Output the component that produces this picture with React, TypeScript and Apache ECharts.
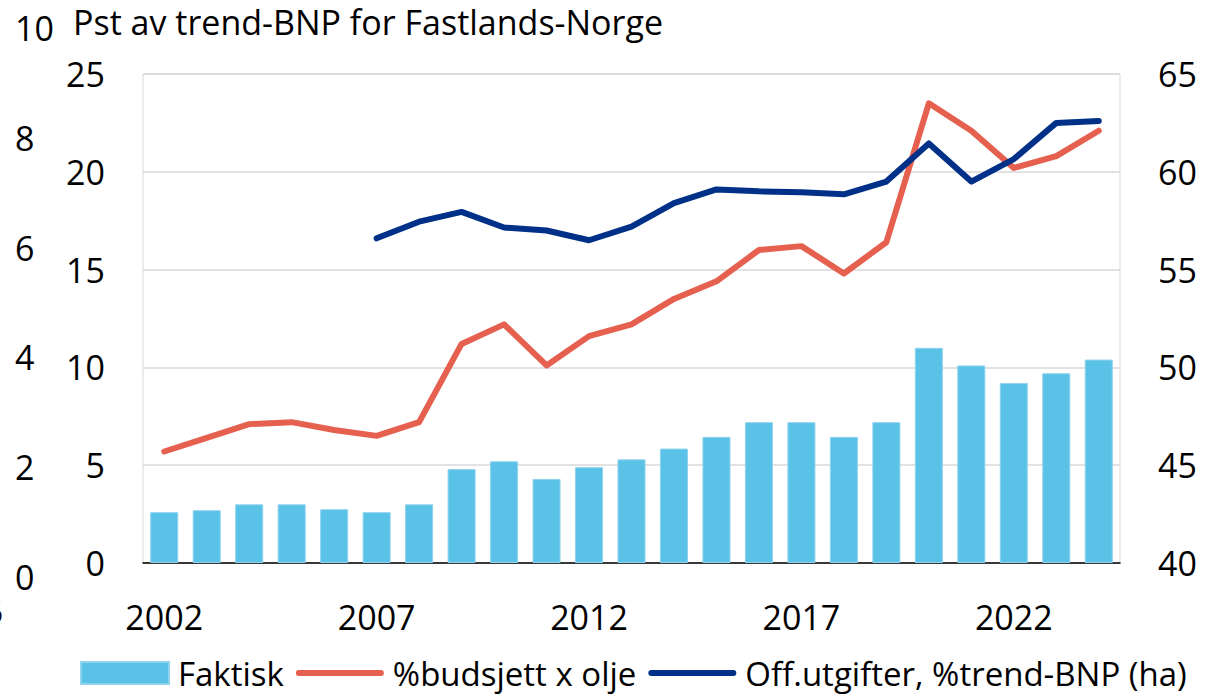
import React, { useEffect, useRef } from "react";
import * as echarts from "echarts";

const years = [
  "2002", "2003", "2004", "2005", "2006", "2007", "2008", "2009", "2010", "2011", "2012",
  "2013", "2014", "2015", "2016", "2017", "2018", "2019", "2020", "2021", "2022", "2023", "2024",
];
const faktisk = [2.6, 2.7, 3.0, 3.0, 2.75, 2.6, 3.0, 4.8, 5.2, 4.3, 4.9, 5.3, 5.85, 6.45, 7.2, 7.2, 6.45, 7.2, 11.0, 10.1, 9.2, 9.7, 10.4];
const budsjettOlje = [5.7, 6.4, 7.1, 7.2, 6.8, 6.5, 7.2, 11.2, 12.2, 10.1, 11.6, 12.2, 13.5, 14.4, 16.0, 16.2, 14.8, 16.4, 23.5, 22.1, 20.2, 20.8, 22.1];
const offUtgifter = [null, null, null, null, null, 56.6, 57.45, 57.95, 57.15, 57.0, 56.5, 57.2, 58.4, 59.1, 59.0, 58.95, 58.85, 59.5, 61.45, 59.5, 60.65, 62.5, 62.6];

const FONT = "'Open Sans', 'Noto Sans', sans-serif";
const LINE_ICON = "path://M3,0 L87,0 A3,3 0 0 1 87,6 L3,6 A3,3 0 0 1 3,0 Z";

export default function App() {
  const ref = useRef<HTMLDivElement>(null);
  useEffect(() => {
    document.body.style.margin = "0";
    if (!ref.current) return;
    const chart = echarts.init(ref.current, null, { renderer: "svg" });
    const labelStyle = { fontFamily: FONT, fontSize: 34, color: "#000" };
    chart.setOption({
      animation: false,
      backgroundColor: "#fff",
      textStyle: { fontFamily: FONT },
      title: {
        text: "Pst av trend-BNP for Fastlands-Norge",
        left: 73,
        top: 2,
        padding: 0,
        textStyle: { fontFamily: FONT, fontSize: 34, lineHeight: 40, fontWeight: "normal", color: "#000" },
      },
      grid: [
        { left: 143, right: 110, top: 74, bottom: 131, show: true, borderColor: "#d9d9d9", borderWidth: 1 },
        { left: 60, width: 10, top: 28, bottom: 117 },
      ],
      legend: {
        left: 75,
        top: 650,
        padding: [5, 5, 0, 5],
        itemWidth: 88,
        itemHeight: 22,
        itemGap: 12,
        textStyle: { ...labelStyle, fontSize: 33, lineHeight: 36, padding: [0, 0, 0, 4] },
        data: [
          { name: "Faktisk", icon: "rect" },
          { name: "%budsjett x olje", icon: LINE_ICON },
          { name: "Off.utgifter, %trend-BNP (ha)", icon: LINE_ICON },
        ],
      },
      xAxis: [
        {
          type: "category",
          gridIndex: 0,
          data: years,
          boundaryGap: true,
          axisLine: { lineStyle: { color: "#000", width: 1.5 } },
          axisTick: { inside: true, length: 12, interval: 4, lineStyle: { color: "#404040", width: 1.5 } },
          axisLabel: { ...labelStyle, interval: 4, margin: 37 },
          splitLine: { show: false },
        },
        {
          type: "category",
          gridIndex: 1,
          data: years,
          show: false,
        },
      ],
      yAxis: [
        {
          type: "value",
          gridIndex: 0,
          min: 0,
          max: 25,
          interval: 5,
          axisLine: { show: false },
          axisTick: { show: false },
          axisLabel: { ...labelStyle, margin: 38 },
          splitLine: { lineStyle: { color: "#d9d9d9", width: 1.5 } },
        },
        {
          type: "value",
          gridIndex: 0,
          position: "right",
          min: 40,
          max: 65,
          interval: 5,
          axisLine: { show: false },
          axisTick: { show: false },
          axisLabel: { ...labelStyle, margin: 38 },
          splitLine: { show: false },
        },
        {
          type: "value",
          gridIndex: 1,
          position: "left",
          min: 0,
          max: 10,
          interval: 2,
          axisLine: { show: false },
          axisTick: { show: false },
          axisLabel: { ...labelStyle, margin: 45, align: "left" },
          splitLine: { show: false },
        },
      ],
      graphic: [
        {
          type: "text",
          left: -16,
          top: 594,
          style: { text: "5", fontFamily: FONT, fontSize: 34, fill: "#000" },
        },
      ],
      series: [
        {
          name: "Faktisk",
          type: "bar",
          xAxisIndex: 0,
          yAxisIndex: 0,
          data: faktisk,
          barCategoryGap: "34%",
          itemStyle: { color: "#5BC2E7", borderColor: "#8fd3ee", borderWidth: 1 },
        },
        {
          name: "%budsjett x olje",
          type: "line",
          xAxisIndex: 0,
          yAxisIndex: 0,
          data: budsjettOlje,
          symbol: "none",
          lineStyle: { color: "#E5604F", width: 6, cap: "round", join: "round" },
          itemStyle: { color: "#E5604F" },
        },
        {
          name: "Off.utgifter, %trend-BNP (ha)",
          type: "line",
          xAxisIndex: 0,
          yAxisIndex: 1,
          data: offUtgifter,
          symbol: "none",
          lineStyle: { color: "#003087", width: 6, cap: "round", join: "round" },
          itemStyle: { color: "#003087" },
        },
      ],
    });
    return () => chart.dispose();
  }, []);
  return <div ref={ref} style={{ width: 1230, height: 694 }} />;
}
